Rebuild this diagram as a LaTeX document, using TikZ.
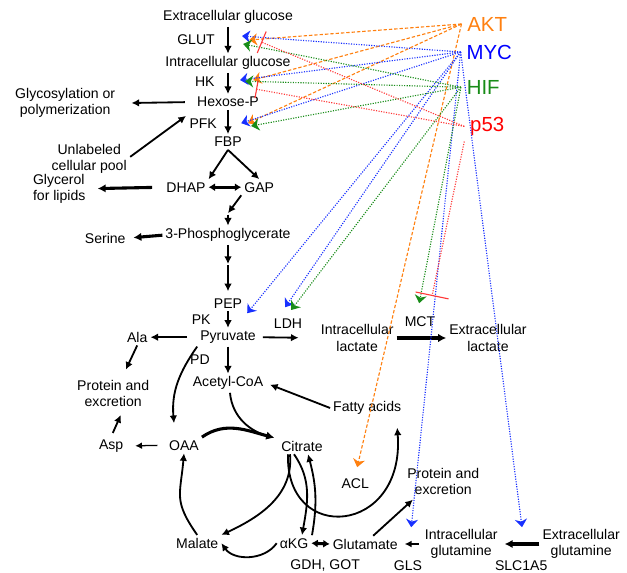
\documentclass[tikz,border=0pt]{standalone}
\usepackage{fontspec}
\setmainfont{Liberation Sans}
\usepackage{tikz}
\usetikzlibrary{arrows.meta}
\definecolor{aktorange}{RGB}{255,128,16}
\definecolor{mycblue}{RGB}{24,48,255}
\definecolor{hifgreen}{RGB}{24,140,24}
\definecolor{pred}{RGB}{255,56,56}

\begin{document}
\begin{tikzpicture}[
  font=\fontsize{10}{11.5}\selectfont,
  met/.style={inner sep=2pt, align=center},
  reg/.style={inner sep=4pt, font=\fontsize{14.5}{16}\selectfont},
  flux/.style={-{Latex[length=1.9mm,width=1.9mm]}, line width=1.3pt},
  bigflux/.style={-{Latex[length=2mm,width=2.1mm]}, line width=2.2pt},
  thinflux/.style={-{Latex[length=1.7mm,width=1.7mm]}, line width=0.9pt},
  twoway/.style={{Latex[length=1.6mm,width=2mm]}-{Latex[length=1.6mm,width=2mm]}, line width=2.2pt},
  regtip/.style={-{Stealth[length=2mm,width=3mm,inset=0.6mm]}},
  aktline/.style={color=aktorange, line width=0.8pt, dash pattern=on 2.4pt off 1.4pt, regtip},
  mycline/.style={color=mycblue, line width=0.8pt, densely dotted, regtip},
  hifline/.style={color=hifgreen, line width=0.8pt, densely dotted, regtip},
  pline/.style={color=pred, line width=0.8pt, densely dotted}
]
\useasboundingbox (0,0) rectangle (15.675,-14.325);

\node[met] (extglc) at (5.7,-0.43) {Extracellular glucose};
\node[met] (glut) at (4.9,-1.0) {GLUT};
\node[met] (intglc) at (5.7,-1.58) {Intracellular glucose};
\node[met] (hk) at (5.12,-2.05) {HK};
\node[met] (hexp) at (5.7,-2.55) {Hexose-P};
\node[met] (pfk) at (5.08,-3.08) {PFK};
\node[met] (fbp) at (5.7,-3.55) {FBP};
\node[met] (glyco) at (1.63,-2.58) {Glycosylation or\\polymerization};
\node[met, inner sep=0pt] (pool) at (2.23,-3.98) {Unlabeled\\cellular pool};
\node[met, inner sep=0pt, align=left] (glycerol) at (1.48,-4.72) {Glycerol\\for lipids};
\node[met] (dhap) at (4.65,-4.68) {DHAP};
\node[met] (gap) at (6.48,-4.68) {GAP};
\node[met] (pg3) at (5.7,-5.88) {3-Phosphoglycerate};
\node[met] (serine) at (2.63,-5.95) {Serine};
\node[met] (pep) at (5.7,-7.58) {PEP};
\node[met] (pk) at (5.03,-8.0) {PK};
\node[met] (pyr) at (5.7,-8.43) {Pyruvate};
\node[met] (pd) at (5.0,-8.98) {PD};
\node[met] (accoa) at (5.7,-9.58) {Acetyl-CoA};
\node[met] (ala) at (3.43,-8.43) {Ala};
\node[met] (protl) at (2.83,-9.83) {Protein and\\excretion};
\node[met] (asp) at (2.78,-11.15) {Asp};
\node[met] (oaa) at (4.6,-11.13) {OAA};
\node[met] (cit) at (7.55,-11.15) {Citrate};
\node[met] (fa) at (9.18,-10.2) {Fatty acids};
\node[met] (acl) at (8.88,-12.1) {ACL};
\node[met] (protr) at (11.08,-12.03) {Protein and\\excretion};
\node[met] (mal) at (4.93,-13.58) {Malate};
\node[met] (akg) at (7.35,-13.58) {αKG};
\node[met] (glu) at (9.13,-13.6) {Glutamate};
\node[met] (gdh) at (8.13,-14.13) {GDH, GOT};
\node[met] (intgln) at (11.53,-13.6) {Intracellular\\glutamine};
\node[met] (extgln) at (14.53,-13.6) {Extracellular\\glutamine};
\node[met] (gls) at (10.2,-14.13) {GLS};
\node[met] (slc) at (13.03,-14.13) {SLC1A5};
\node[met] (ldh) at (7.2,-8.08) {LDH};
\node[met] (intlac) at (8.93,-8.45) {Intracellular\\lactate};
\node[met] (mct) at (10.5,-8.05) {MCT};
\node[met] (extlac) at (12.2,-8.45) {Extracellular\\lactate};

\node[reg, text=aktorange] (akt) at (12.18,-0.6) {AKT};
\node[reg, text=blue] (myc) at (12.23,-1.3) {MYC};
\node[reg, text=hifgreen] (hif) at (12.08,-2.18) {HIF};
\node[reg, text=red] (p53) at (12.18,-3.16) {p53};

\coordinate (c1) at (5.7,-5.33);
\coordinate (c2) at (5.7,-6.6);

\draw[flux] (extglc) -- (intglc);
\draw[flux] (intglc) -- (hexp);
\draw[flux] (hexp) -- (fbp);
\draw[flux, shorten <=0.23cm, shorten >=0.33cm] (hexp.west) -- (glyco.east);
\draw[flux, shorten <=0.1cm, shorten >=0.25cm] (pool.east) -- (hexp.south west);
\draw[flux] (fbp.south) -- (dhap.north east);
\draw[flux] (fbp.south) -- (gap.north);
\draw[twoway] (dhap.east) -- (gap.west);
\draw[bigflux, shorten <=0.28cm, shorten >=0.3cm] (dhap.west) -- (glycerol.east);
\draw[flux] (gap.south west) -- (c1);
\draw[flux, shorten <=1pt] (c1) -- (pg3);
\draw[bigflux, shorten >=0.12cm] (pg3.west) -- (serine.east);
\draw[flux] (pg3) -- (c2);
\draw[flux, shorten <=1pt, shorten >=0.1cm] (c2) -- (pep);
\draw[flux] (pep) -- (pyr);
\draw[flux] (pyr) -- (accoa);
\draw[flux, shorten <=0.25cm] (pyr.west) -- (ala.east);
\draw[flux, shorten <=0.1cm, shorten >=0.48cm] (pyr.east) -- (intlac.west);
\draw[bigflux] (intlac.east) -- (extlac.west);
\draw[flux, shorten >=0.2cm] (ala.south) -- ([xshift=0.23cm]protl.north);
\draw[flux, shorten <=0.1cm, shorten >=0.15cm] (asp.north) -- ([xshift=0.25cm]protl.south);
\draw[thinflux, shorten <=0.22cm, shorten >=0.22cm] (oaa.west) -- (asp.east);
\draw[flux] (pyr.south west) to[out=235, in=95] ([xshift=-0.25cm, yshift=0.35cm]oaa.north);
\draw[flux] ([xshift=0.05cm]accoa.south) to[out=-85, in=165] ([xshift=-0.1cm]cit.north west);
\draw[bigflux] (oaa.north east) to[out=35, in=165] ([xshift=-0.1cm]cit.north west);
\draw[flux] ([xshift=-0.2cm]cit.south) to[out=-55, in=80] ([xshift=0.2cm]akg.north);
\draw[flux] ([xshift=0.45cm]akg.north) to[out=80, in=-75] ([xshift=0.15cm]cit.south);
\draw[flux] ([xshift=-0.3cm]cit.south) to[out=-85, in=25] (mal.north east);
\draw[flux] (mal.north) to[out=125, in=-95, looseness=1.3] (oaa.south);
\draw[flux] (akg.west) to[out=-125, in=-55] (mal.east);
\draw[twoway] (akg.east) -- (glu.west);
\draw[flux] ([xshift=-0.35cm]cit.south) .. controls (7.13,-13.63) and (10.13,-13.38) .. ([xshift=0.75cm, yshift=-0.25cm]fa.south);
\draw[flux, shorten >=0.1cm] (fa.west) -- (accoa.east);
\draw[flux, shorten >=0.08cm] ([xshift=0.2cm]glu.north) -- ([xshift=-0.7cm]protr.south);
\draw[thinflux, shorten <=0.08cm, shorten >=0.1cm] (intgln.west) -- (glu.east);
\draw[bigflux, shorten >=0.1cm] (extgln.west) -- (intgln.east);

\coordinate (glutA) at (6.23,-1.0);
\coordinate (glutM) at (6.05,-0.9);
\coordinate (glutH) at (6.08,-1.1);
\coordinate (glutP) at (6.53,-1.05);
\coordinate (hkA) at (6.33,-2.0);
\coordinate (hkM) at (6.0,-2.0);
\coordinate (hkH) at (6.13,-2.03);
\coordinate (hkP) at (6.4,-2.23);
\coordinate (pfkA) at (6.2,-3.08);
\coordinate (pfkM) at (6.03,-3.08);
\coordinate (pfkH) at (6.28,-3.15);
\coordinate (pyrM) at (6.18,-7.83);
\coordinate (ldhM) at (7.13,-7.68);
\coordinate (ldhH) at (7.28,-7.75);
\coordinate (mctH) at (10.48,-7.58);
\coordinate (mctP) at (10.8,-7.4);
\coordinate (aclA) at (8.93,-11.68);
\coordinate (glsM) at (10.28,-13.18);
\coordinate (slcM) at (13.05,-13.18);

\draw[aktline] (akt.west) -- (glutA);
\draw[aktline] (akt.west) -- (hkA);
\draw[aktline] (akt.west) -- (pfkA);
\draw[aktline] (akt.west) -- (aclA);
\draw[mycline] (myc.west) -- (glutM);
\draw[mycline] (myc.west) -- (hkM);
\draw[mycline] (myc.west) -- (pfkM);
\draw[mycline] (myc.west) -- (pyrM);
\draw[mycline] (myc.west) -- (ldhM);
\draw[mycline] (myc.west) -- (glsM);
\draw[mycline] (myc.west) -- (slcM);
\draw[hifline] (hif.west) -- (glutH);
\draw[hifline] (hif.west) -- (hkH);
\draw[hifline] (hif.west) -- (pfkH);
\draw[hifline] (hif.west) -- (ldhH);
\draw[hifline] (hif.west) -- (mctH);
\draw[pline, -{Bar[width=5.8mm]}] (p53.west) -- (glutP);
\draw[pline, -{Bar[width=4.5mm]}] (p53.west) -- (hkP);
\draw[pline, -{Bar[width=8.4mm]}] (p53.south west) -- (mctP);
\end{tikzpicture}
\end{document}
